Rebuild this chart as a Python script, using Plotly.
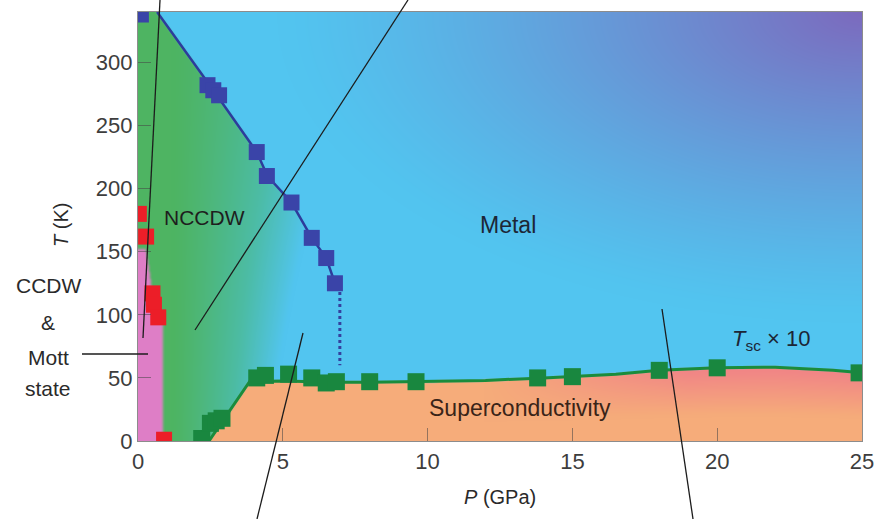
import base64
import struct
import zlib

import numpy as np
import plotly.graph_objects as go

# ---------------------------------------------------------------- data
# NCCDW -> metal transition (blue squares) and its boundary line
ncc_P = [0.1, 2.4, 2.6, 2.8, 4.1, 4.45, 5.3, 6.0, 6.5, 6.8]
ncc_T = [338, 282, 278, 274, 229, 210, 189, 161, 145, 125]
ncc_line_P = [0.66, 2.6, 4.1, 4.47, 5.3, 6.0, 6.5, 6.8]
ncc_line_T = [340, 278, 229, 210, 189, 161, 145, 125]
ncc_dot_P = [6.97, 6.97]
ncc_dot_T = [118, 60]

# CCDW transition (red squares) and the CCDW/Mott region edge
ccdw_P = [0.03, 0.28, 0.5, 0.55, 0.7, 0.9]
ccdw_T = [180, 162, 117, 108, 98, 1]
ccdw_edge_T = [0, 98, 118, 152]
ccdw_edge_P = [0.85, 0.85, 0.5, 0.28]

# superconducting Tc x 10 (green squares) and its boundary line
sc_P = [2.2, 2.5, 2.7, 2.9, 4.1, 4.4, 5.2, 6.0, 6.5, 6.85, 8.0, 9.6,
        13.8, 15.0, 18.0, 20.0, 24.9]
sc_T = [2, 14, 16, 18, 50, 52, 53, 50, 46, 47, 47, 47, 50, 51, 56, 58, 54]
sc_line_P = [2.45, 3.15, 3.85, 5.0, 6.8, 8.0, 10.0, 12.0, 14.0, 15.0,
             16.5, 18.0, 20.0, 22.0, 24.0, 25.0]
sc_line_T = [0, 23, 47, 47.5, 46.5, 46.5, 47, 48, 50, 51, 53, 56, 58,
             58.5, 56, 54]

x_ticks = [0, 5, 10, 15, 20, 25]
y_ticks = [0, 50, 100, 150, 200, 250, 300]
P_MAX, T_MAX = 25, 340

# ---------------------------------------------------------------- phase-region shading
W, H = 724, 429
pp = (np.arange(W) + 0.5) * P_MAX / W
tt = (np.arange(H) + 0.5) * T_MAX / H
P, T = np.meshgrid(pp, tt[::-1])  # row 0 = top of the plot


def rgb(c):
    return np.array(c, dtype=float)


cyan = rgb((82, 197, 240))
purple = rgb((124, 106, 190))
green = rgb((78, 180, 98))
teal = rgb((76, 188, 165))
pink = rgb((222, 126, 198))
orange = rgb((246, 172, 122))
salmon = rgb((241, 134, 134))


def mix(a, b, f):
    f = f[..., None]
    return a * (1 - f) + b * f


# metal: cyan fading to violet toward the high-P / high-T corner
d = np.sqrt(0.8 * ((P_MAX - P) / P_MAX) ** 2 + ((T_MAX - T) / T_MAX) ** 2)
f = np.clip(1 - d / 0.72, 0, 1) ** 1.25
img = mix(cyan, purple, f)

# NCCDW: green, turning teal then cyan toward the metal side
s = np.clip((P - 1.2) / 5.0, 0, 1) * (1 + (200 - T) / 400)
s = np.clip(s, 0, 1) ** 1.2
ncc_col = np.where((s < 0.55)[..., None],
                   mix(green, teal, np.clip(s / 0.55, 0, 1)),
                   mix(teal, cyan, np.clip((s - 0.55) / 0.45, 0, 1)))
bnd_T = np.array(ncc_line_T + ncc_dot_T + [0])
bnd_P = np.array(ncc_line_P + ncc_dot_P + [ncc_dot_P[-1]])
order = np.argsort(bnd_T)
x_edge = np.interp(T, bnd_T[order], bnd_P[order])
in_ncc = P < x_edge
img[in_ncc] = ncc_col[in_ncc]

# CCDW & Mott state
pe = np.interp(T, ccdw_edge_T + [ccdw_edge_T[-1] + 0.5],
               ccdw_edge_P + [0])
in_pink = P < pe
img[in_pink] = pink

# superconducting dome
tsc = np.interp(P, sc_line_P, sc_line_T)
in_sc = (P >= sc_line_P[0]) & (T < tsc)
pk = np.clip((P - 12) / 7, 0, 1) * np.clip((T / np.maximum(tsc, 1) - 0.35) / 0.6, 0, 1)
sc_col = mix(orange, salmon, pk)
img[in_sc] = sc_col[in_sc]

# soften region edges a little
for _ in range(2):
    pad = np.pad(img, ((1, 1), (1, 1), (0, 0)), mode="edge")
    img = sum(pad[i:i + H, j:j + W] for i in range(3) for j in range(3)) / 9.0
img = np.clip(img, 0, 255).astype(np.uint8)


def png_data_uri(a):
    h, w, _ = a.shape
    raw = b"".join(b"\x00" + a[r].tobytes() for r in range(h))

    def chunk(tag, body):
        return (struct.pack(">I", len(body)) + tag + body
                + struct.pack(">I", zlib.crc32(tag + body) & 0xFFFFFFFF))

    png = (b"\x89PNG\r\n\x1a\n"
           + chunk(b"IHDR", struct.pack(">IIBBBBB", w, h, 8, 2, 0, 0, 0))
           + chunk(b"IDAT", zlib.compress(raw, 9))
           + chunk(b"IEND", b""))
    return "data:image/png;base64," + base64.b64encode(png).decode()


# ---------------------------------------------------------------- figure
FONT = "Liberation Sans, Arial, Helvetica, sans-serif"
fig = go.Figure()

fig.add_trace(go.Scatter(x=ncc_line_P, y=ncc_line_T, mode="lines",
                         line=dict(color="#2d3c9b", width=2.5), hoverinfo="skip"))
fig.add_trace(go.Scatter(x=ncc_dot_P, y=ncc_dot_T, mode="lines",
                         line=dict(color="#34419f", width=3, dash="dot"), hoverinfo="skip"))
fig.add_trace(go.Scatter(x=sc_line_P, y=sc_line_T, mode="lines",
                         line=dict(color="#1a8c3c", width=3), hoverinfo="skip"))

fig.add_trace(go.Scatter(x=ncc_P, y=ncc_T, mode="markers",
                         marker=dict(symbol="square", size=16, color="#3a44a8")))
fig.add_trace(go.Scatter(x=ccdw_P, y=ccdw_T, mode="markers",
                         marker=dict(symbol="square", size=16, color="#ec1e28")))
fig.add_trace(go.Scatter(x=sc_P, y=sc_T, mode="markers",
                         marker=dict(symbol="square", size=17, color="#19873f")))

fig.add_layout_image(dict(source=png_data_uri(img), xref="x", yref="y",
                          x=0, y=T_MAX, sizex=P_MAX, sizey=T_MAX,
                          xanchor="left", yanchor="top", sizing="stretch",
                          layer="below"))

# thin black leader lines (pixel positions converted to paper fractions)
L, R, TOP, BOT = 138, 862, 12, 441


def pxp(x, y):
    return (x - L) / (R - L), (BOT - y) / (BOT - TOP)


for (x0, y0), (x1, y1) in [((160, 0), (143, 338)),
                           ((408, 0), (195, 330)),
                           ((303, 333), (257, 519)),
                           ((662, 309), (693, 519)),
                           ((82, 354), (148, 354))]:
    a0, b0 = pxp(x0, y0)
    a1, b1 = pxp(x1, y1)
    fig.add_shape(type="line", xref="paper", yref="paper",
                  x0=a0, y0=b0, x1=a1, y1=b1, layer="above",
                  line=dict(color="#1c1c1c", width=1.3))

labels = [
    ("NCCDW", 2.31, 177, 21, "#1e1e1e"),
    ("Metal", 12.78, 171, 23, "#1c2636"),
    ("Superconductivity", 13.2, 26, 23, "#3a2418"),
    ("<i>T</i><sub>sc</sub> × 10", 21.86, 80, 22, "#1c2636"),
]
for txt, x, y, size, col in labels:
    fig.add_annotation(text=txt, x=x, y=y, xref="x", yref="y", showarrow=False,
                       xanchor="center", yanchor="middle",
                       font=dict(family=FONT, size=size, color=col))

for txt, py in [("CCDW", 285), ("&", 322), ("Mott", 357), ("state", 388)]:
    fig.add_annotation(text=txt, x=(48 - L) / (R - L), y=(BOT - py) / (BOT - TOP),
                       xref="paper", yref="paper", showarrow=False,
                       xanchor="center", yanchor="middle",
                       font=dict(family=FONT, size=21, color="#2a2a2a"))

fig.add_annotation(text="<i>T</i> (K)", x=(61 - L) / (R - L), y=(BOT - 225) / (BOT - TOP),
                   xref="paper", yref="paper", showarrow=False, textangle=-90,
                   xanchor="center", yanchor="middle",
                   font=dict(family=FONT, size=20, color="#2a2a2a"))
fig.add_annotation(text="<i>P</i> (GPa)", x=(500 - L) / (R - L), y=(BOT - 497) / (BOT - TOP),
                   xref="paper", yref="paper", showarrow=False,
                   xanchor="center", yanchor="middle",
                   font=dict(family=FONT, size=20, color="#2a2a2a"))

axis_common = dict(showgrid=False, zeroline=False, ticks="inside", ticklen=13,
                   tickwidth=1, tickcolor="rgba(70,70,70,0.55)",
                   showline=True, mirror=True, linecolor="#8c8c8c", linewidth=1.2,
                   automargin=False,
                   tickfont=dict(family=FONT, size=22, color="#3d3d3d"))
fig.update_xaxes(range=[0, P_MAX], tickvals=x_ticks, **axis_common)
fig.update_yaxes(range=[0, T_MAX], tickvals=y_ticks, **axis_common)

fig.update_layout(width=875, height=519,
                  margin=dict(l=L, r=875 - R, t=TOP, b=519 - BOT, autoexpand=False),
                  paper_bgcolor="white", plot_bgcolor="white",
                  showlegend=False, font=dict(family=FONT))

fig.write_html("out.html")
